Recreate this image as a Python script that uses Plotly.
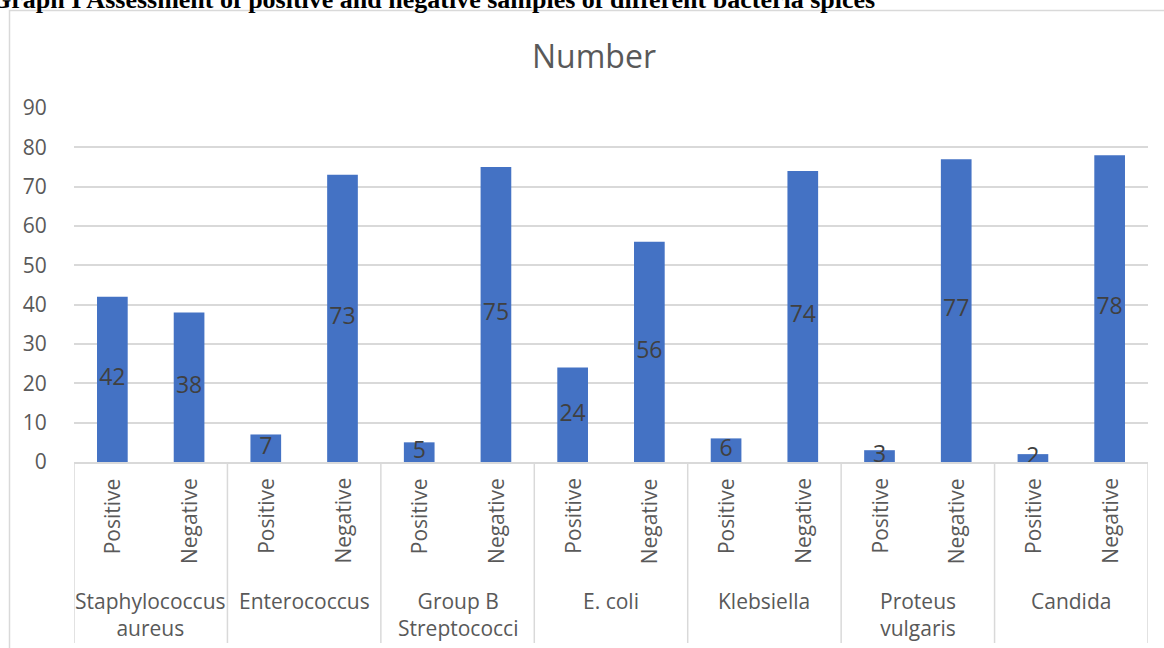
import plotly.graph_objects as go

groups = ["Staphylococcus<br>aureus", "Enterococcus", "Group B<br>Streptococci",
          "E. coli", "Klebsiella", "Proteus<br>vulgaris", "Candida"]
statuses = ["Positive", "Negative"]
positive = [42, 7, 5, 24, 6, 3, 2]
negative = [38, 73, 75, 56, 74, 77, 78]
y_ticks = [0, 10, 20, 30, 40, 50, 60, 70, 80, 90]

values = []
labels = []
for p, n in zip(positive, negative):
    values += [p, n]
    labels += statuses
xs = list(range(len(values)))

W, H = 1164, 648
L, R, T, B = 74, 16, 108, 186
pw, ph = W - L - R, H - T - B

def px(xpix):
    return (xpix - L) / pw

def py(ypix):
    return (H - B - ypix) / ph

FONT = "Open Sans"
GRAY = "#595959"
GRID = "#d9d9d9"

fig = go.Figure()
fig.add_trace(go.Bar(x=xs, y=values, width=0.4, marker=dict(color="#4472C4", line=dict(width=0)),
                     hoverinfo="skip"))
fig.add_trace(go.Scatter(x=xs, y=[v / 2 for v in values], mode="text",
                         text=[str(v) for v in values],
                         textfont=dict(family=FONT, size=23, color="#404040"),
                         hoverinfo="skip"))

ann = []
# inner category labels
for x, lab in zip(xs, labels):
    ann.append(dict(x=x, xref="x", y=py(476), yref="paper", text=lab, textangle=-90,
                    showarrow=False, xanchor="center", yanchor="top",
                    font=dict(family=FONT, size=21, color=GRAY)))
# group labels
for i, g in enumerate(groups):
    ann.append(dict(x=2 * i + 0.5, xref="x", y=py(585), yref="paper", text=g,
                    showarrow=False, xanchor="center", yanchor="top",
                    font=dict(family=FONT, size=21, color=GRAY)))
# chart title
ann.append(dict(x=px(594), xref="paper", y=py(55), yref="paper", text="Number",
                showarrow=False, xanchor="center", yanchor="middle",
                font=dict(family=FONT, size=32, color=GRAY)))
# document header (cut off at top)
ann.append(dict(x=px(-11), xref="paper", y=py(16), yref="paper",
                text="<b>Graph I Assessment of positive and negative samples of different bacteria spices</b>",
                showarrow=False, xanchor="left", yanchor="bottom",
                font=dict(family="Liberation Serif", size=26, color="black")))

shapes = []
# dividers
for k in range(len(groups) + 1):
    shapes.append(dict(type="line", xref="x", yref="paper", x0=2 * k - 0.5, x1=2 * k - 0.5,
                       y0=0, y1=py(643), line=dict(color=GRID, width=1.5)))
# chart border
shapes.append(dict(type="rect", xref="paper", yref="paper", x0=px(9.5), x1=px(1200),
                   y0=py(700), y1=py(10.5), line=dict(color=GRID, width=1.5)))

fig.update_layout(
    width=W, height=H,
    margin=dict(l=L, r=R, t=T, b=B),
    paper_bgcolor="white", plot_bgcolor="white",
    showlegend=False,
    bargap=0.6,
    annotations=ann, shapes=shapes,
    xaxis=dict(range=[-0.5, len(values) - 0.5], showticklabels=False, showgrid=False,
               zeroline=False, showline=True, linecolor=GRID, linewidth=1.5, fixedrange=True),
    yaxis=dict(range=[0, 90], tickvals=y_ticks, showgrid=True, gridcolor=GRID, gridwidth=1.5,
               zeroline=False, showline=False, ticks="outside", ticklen=22,
               tickcolor="rgba(0,0,0,0)",
               tickfont=dict(family=FONT, size=21, color=GRAY), fixedrange=True),
)
fig.write_html("out.html")
